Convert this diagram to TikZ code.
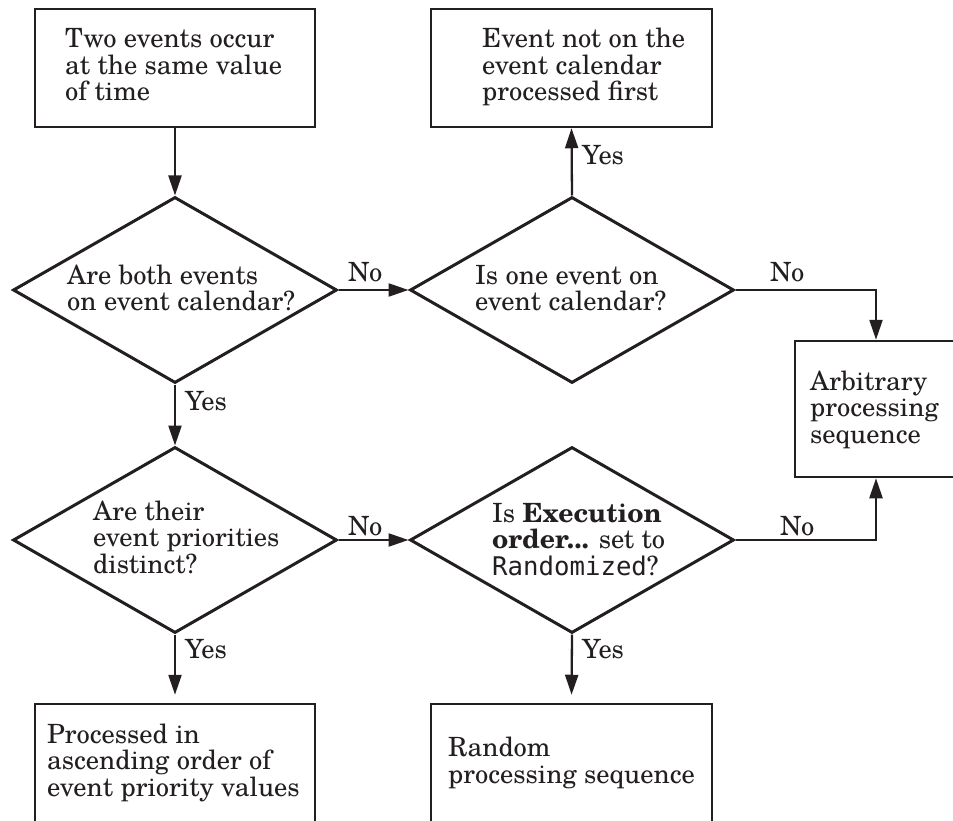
\documentclass[tikz,border=0pt]{standalone}
\usepackage{fontspec}
\setmainfont{texgyreschola-regular.otf}[BoldFont=texgyreschola-bold.otf]
\setmonofont{DejaVu Sans Mono}[Scale=0.97]
\usetikzlibrary{shapes.geometric,arrows.meta}
\definecolor{ink}{RGB}{35,31,32}
\begin{document}
\begin{tikzpicture}[x=1pt,y=-1pt,color=ink,
  every node/.style={font=\fontsize{26.5pt}{26.5pt}\selectfont,text=ink},
  boxnode/.style={draw=ink,line width=2.5pt,rectangle,inner sep=0pt},
  dec/.style={draw=ink,line width=3pt,diamond,inner sep=0pt,minimum width=324pt,minimum height=186pt},
  txt/.style={align=left,inner sep=0pt,anchor=base west},
  lbl/.style={inner sep=0pt,anchor=base west},
  conn/.style={draw=ink,line width=2.3pt,-{Triangle[length=20pt,width=13pt]}}]
\useasboundingbox (0,0) rectangle (953,821);
\clip (0,0) rectangle (953,821);
% boxes
\node[boxnode,minimum width=280pt,minimum height=118pt] (b1) at (175,68) {};
\node[boxnode,minimum width=281pt,minimum height=118pt] (b2) at (571.5,68) {};
\node[boxnode,minimum width=162pt,minimum height=136pt] (b3) at (876,409) {};
\node[boxnode,minimum width=280pt,minimum height=160pt] (b4) at (175,784) {};
\node[boxnode,minimum width=281pt,minimum height=160pt] (b5) at (571.5,784) {};
% diamonds
\node[dec] (d1) at (175,290) {};
\node[dec] (d2) at (572,290) {};
\node[dec] (d3) at (175,540) {};
\node[dec] (d4) at (572,540) {};
% texts (anchored at the baseline of their last line)
\node[txt] (t1) at (65,101) {Two events occur\\at the same value\\of time};
\node[txt] (t2) at (482,101) {Event not on the\\event calendar\\processed first};
\node[txt] (t3) at (67,310.5) {Are both events\\on event calendar?};
\node[txt] (t4) at (475,310.5) {Is one event on\\event calendar?};
\node[txt] (t5) at (810,443) {Arbitrary\\processing\\sequence};
\node[txt] (t6) at (93,573) {Are their\\event priorities\\distinct?};
\node[txt] (t7) at (492,575) {Is \textbf{Execution}\\\textbf{order...} set to\\\texttt{Randomized}?};
\node[txt] (t8) at (47,796) {Processed in\\ascending order of\\event priority values};
\node[txt] (t9) at (448,783) {Random\\processing sequence};
% connectors
\coordinate (c1) at (876,290);
\coordinate (c2) at (876,540);
\draw[conn] (b1.south) -- (d1.north);
\draw[conn] (d1.east) -- (d2.west);
\draw[conn] (d2.north) -- (b2.south);
\draw[conn] (d2.east) -- (c1) -- (b3.north);
\draw[conn] (d1.south) -- (d3.north);
\draw[conn] (d3.east) -- (d4.west);
\draw[conn] (d4.east) -- (c2) -- (b3.south);
\draw[conn,shorten >=8pt] (d3.south) -- (b4.north);
\draw[conn,shorten >=8pt] (d4.south) -- (b5.north);
% labels
\node[lbl] (l1) at (348,281) {No};
\node[lbl] (l2) at (582,165) {Yes};
\node[lbl] (l3) at (770,281) {No};
\node[lbl] (l4) at (185,410) {Yes};
\node[lbl] (l5) at (348,535) {No};
\node[lbl] (l6) at (780,535) {No};
\node[lbl] (l7) at (185,658) {Yes};
\node[lbl] (l8) at (582,658) {Yes};
\end{tikzpicture}
\end{document}
